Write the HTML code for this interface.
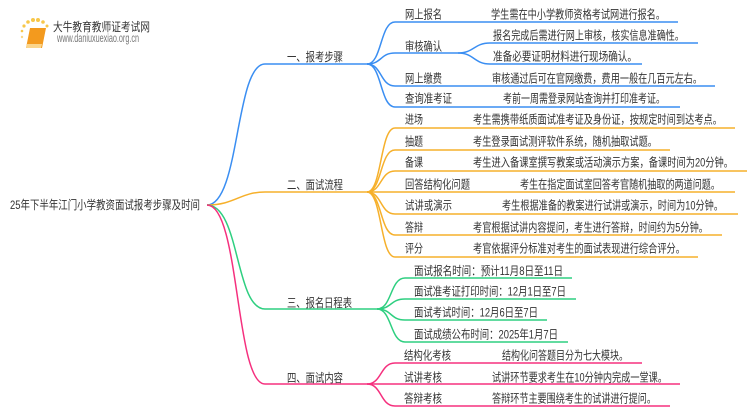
<!DOCTYPE html>
<html><head><meta charset="utf-8"><style>
html,body{margin:0;padding:0;background:#fff;}
svg{display:block;}
text{font-family:"Liberation Sans","Noto Sans CJK SC",sans-serif;font-size:12px;fill:#333;}
</style></head><body>
<svg width="750" height="410" viewBox="0 0 750 410" xmlns="http://www.w3.org/2000/svg">
<!-- logo -->
<g>
<circle cx="24" cy="26" r="1.6" fill="#f7c74a"/><circle cx="28" cy="22" r="1.8" fill="#f7c74a"/><circle cx="33" cy="20" r="2" fill="#f7c74a"/><circle cx="38" cy="20" r="2" fill="#f7c74a"/><circle cx="43" cy="22" r="1.8" fill="#f7c74a"/><circle cx="47" cy="26" r="1.5" fill="#f7c74a"/><circle cx="22" cy="31" r="1.3" fill="#f7c74a"/><circle cx="22" cy="37" r="1.2" fill="#fad88a"/>
<path d="M30 28 L46 28 L42 48 L26 48 Z" fill="#f39a1e"/>
<path d="M27 44 L42 44 L41 48 L26 48 Z" fill="#fbd58a"/>
<text x="53" y="31" font-size="12" textLength="97" lengthAdjust="spacingAndGlyphs" style="fill:#333">大牛教育教师证考试网</text>
<text x="57" y="42" font-size="7.5" textLength="82" lengthAdjust="spacingAndGlyphs" style="fill:#777">www.daniuxuexiao.org.cn</text>
</g>

<!-- root -->
<text x="10" y="209" font-size="12.5" textLength="190" lengthAdjust="spacingAndGlyphs">25年下半年江门小学教资面试报考步骤及时间</text>

<g fill="none" stroke-width="1.5">
<!-- level 1 -->
<path d="M207 205 C240 205 235 64 265 64 L367 64" stroke="#3a8ef2"/>
<path d="M207 205 C235 205 240 192 265 192 L367 192" stroke="#f6b02b"/>
<path d="M207 205 C240 205 235 309 265 309 L377 309" stroke="#2ecf80"/>
<path d="M207 205 C240 205 235 384 265 384 L367 384" stroke="#f5307e"/>

<!-- blue children -->
<g stroke="#3a8ef2">
<path d="M367 64 C382 64 380 22 395 22 L678 22"/>
<path d="M367 64 C382 64 380 53 395 53 L458 53"/>
<path d="M458 53 C474 53 474 43 490 43 L698 43"/>
<path d="M458 53 C474 53 474 64 490 64 L642 64"/>
<path d="M367 64 C382 64 380 86 395 86 L715 86"/>
<path d="M367 64 C382 64 380 107 395 107 L680 107"/>
</g>
<!-- orange children -->
<g stroke="#f6b02b">
<path d="M367 192 C382 192 380 128 395 128 L735 128"/>
<path d="M367 192 C382 192 380 150 395 150 L670 150"/>
<path d="M367 192 C382 192 380 171 395 171 L747 171"/>
<path d="M367 192 L735 192"/>
<path d="M367 192 C382 192 380 214 395 214 L738 214"/>
<path d="M367 192 C382 192 380 235 395 235 L722 235"/>
<path d="M367 192 C382 192 380 257 395 257 L698 257"/>
</g>
<!-- green children -->
<g stroke="#2ecf80">
<path d="M377 309 C392 309 390 278 405 278 L572 278"/>
<path d="M377 309 C392 309 390 299 405 299 L576 299"/>
<path d="M377 309 C392 309 390 320 405 320 L547 320"/>
<path d="M377 309 C392 309 390 342 405 342 L568 342"/>
</g>
<!-- pink children -->
<g stroke="#f5307e">
<path d="M367 384 C382 384 380 363 395 363 L642 363"/>
<path d="M367 384 L680 384"/>
<path d="M367 384 C382 384 380 406 395 406 L670 406"/>
</g>
</g>

<!-- level1 labels -->
<text x="287" y="61" textLength="56" lengthAdjust="spacingAndGlyphs">一、报考步骤</text>
<text x="287" y="189" textLength="56" lengthAdjust="spacingAndGlyphs">二、面试流程</text>
<text x="287" y="307" textLength="65" lengthAdjust="spacingAndGlyphs">三、报名日程表</text>
<text x="287" y="382" textLength="56" lengthAdjust="spacingAndGlyphs">四、面试内容</text>

<!-- blue -->
<text x="405" y="18.5" textLength="37" lengthAdjust="spacingAndGlyphs">网上报名</text>
<text x="491" y="18.5" textLength="174" lengthAdjust="spacingAndGlyphs">学生需在中小学教师资格考试网进行报名。</text>
<text x="405" y="50.5" textLength="37" lengthAdjust="spacingAndGlyphs">审核确认</text>
<text x="493" y="39.5" textLength="191" lengthAdjust="spacingAndGlyphs">报名完成后需进行网上审核，核实信息准确性。</text>
<text x="493" y="60.5" textLength="144" lengthAdjust="spacingAndGlyphs">准备必要证明材料进行现场确认。</text>
<text x="405" y="82.5" textLength="37" lengthAdjust="spacingAndGlyphs">网上缴费</text>
<text x="492" y="82.5" textLength="210" lengthAdjust="spacingAndGlyphs">审核通过后可在官网缴费，费用一般在几百元左右。</text>
<text x="405" y="102.5" textLength="47" lengthAdjust="spacingAndGlyphs">查询准考证</text>
<text x="503" y="102.5" textLength="162" lengthAdjust="spacingAndGlyphs">考前一周需登录网站查询并打印准考证。</text>

<!-- orange -->
<text x="405" y="123.5" textLength="18" lengthAdjust="spacingAndGlyphs">进场</text>
<text x="473" y="123.5" textLength="249" lengthAdjust="spacingAndGlyphs">考生需携带纸质面试准考证及身份证，按规定时间到达考点。</text>
<text x="405" y="145.5" textLength="18" lengthAdjust="spacingAndGlyphs">抽题</text>
<text x="473" y="145.5" textLength="184" lengthAdjust="spacingAndGlyphs">考生登录面试测评软件系统，随机抽取试题。</text>
<text x="405" y="166.5" textLength="18" lengthAdjust="spacingAndGlyphs">备课</text>
<text x="473" y="166.5" textLength="260" lengthAdjust="spacingAndGlyphs">考生进入备课室撰写教案或活动演示方案，备课时间为20分钟。</text>
<text x="405" y="188.5" textLength="65" lengthAdjust="spacingAndGlyphs">回答结构化问题</text>
<text x="520" y="188.5" textLength="200" lengthAdjust="spacingAndGlyphs">考生在指定面试室回答考官随机抽取的两道问题。</text>
<text x="405" y="209.5" textLength="47" lengthAdjust="spacingAndGlyphs">试讲或演示</text>
<text x="502" y="209.5" textLength="221" lengthAdjust="spacingAndGlyphs">考生根据准备的教案进行试讲或演示，时间为10分钟。</text>
<text x="405" y="231.5" textLength="18" lengthAdjust="spacingAndGlyphs">答辩</text>
<text x="473" y="231.5" textLength="235" lengthAdjust="spacingAndGlyphs">考官根据试讲内容提问，考生进行答辩，时间约为5分钟。</text>
<text x="405" y="252.5" textLength="18" lengthAdjust="spacingAndGlyphs">评分</text>
<text x="473" y="252.5" textLength="212" lengthAdjust="spacingAndGlyphs">考官依据评分标准对考生的面试表现进行综合评分。</text>

<!-- green -->
<text x="414" y="275" textLength="149" lengthAdjust="spacingAndGlyphs">面试报名时间：预计11月8日至11日</text>
<text x="414" y="295.5" textLength="152" lengthAdjust="spacingAndGlyphs">面试准考证打印时间：12月1日至7日</text>
<text x="414" y="316.5" textLength="124" lengthAdjust="spacingAndGlyphs">面试考试时间：12月6日至7日</text>
<text x="414" y="338.5" textLength="144" lengthAdjust="spacingAndGlyphs">面试成绩公布时间：2025年1月7日</text>

<!-- pink -->
<text x="404" y="359.5" textLength="47" lengthAdjust="spacingAndGlyphs">结构化考核</text>
<text x="502" y="359.5" textLength="126" lengthAdjust="spacingAndGlyphs">结构化问答题目分为七大模块。</text>
<text x="404" y="381.5" textLength="38" lengthAdjust="spacingAndGlyphs">试讲考核</text>
<text x="492" y="381.5" textLength="175" lengthAdjust="spacingAndGlyphs">试讲环节要求考生在10分钟内完成一堂课。</text>
<text x="404" y="402.5" textLength="38" lengthAdjust="spacingAndGlyphs">答辩考核</text>
<text x="492" y="402.5" textLength="164" lengthAdjust="spacingAndGlyphs">答辩环节主要围绕考生的试讲进行提问。</text>
</svg>
</body></html>
